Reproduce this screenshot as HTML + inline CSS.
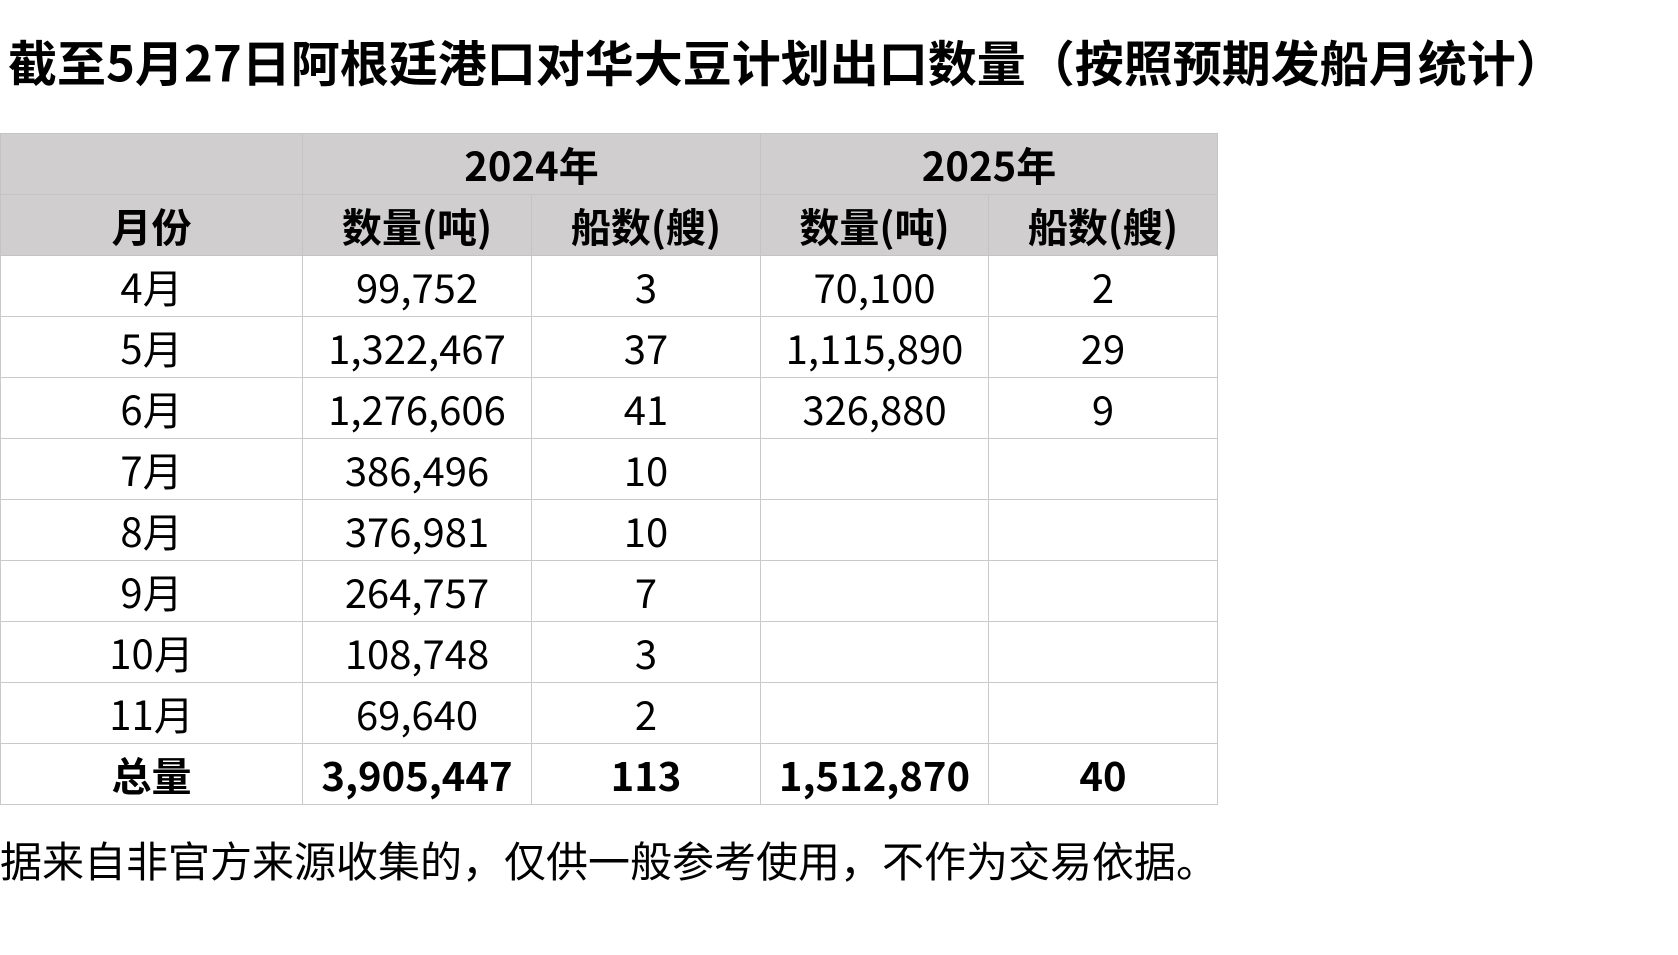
<!DOCTYPE html>
<html><head><meta charset="utf-8"><style>
body{margin:0;width:1678px;height:955px;background:#fff;overflow:hidden;font-family:"Noto Sans CJK SC","Liberation Sans",sans-serif;color:#000;position:relative}
.t{position:absolute;left:8px;top:61px;transform:translateY(-50%);font-size:49px;font-weight:bold;white-space:nowrap;line-height:1;letter-spacing:0}
table{position:absolute;left:0;top:133px;border-collapse:collapse;table-layout:fixed}
td{border:1px solid #c9c9c9;height:60px;padding:0;text-align:center;font-size:40px;line-height:1}
tr.h td{background:#d0cece;font-weight:bold;border-color:#c4c4c4}
tr.b td{font-weight:bold}
.f{position:absolute;left:0;top:860px;transform:translateY(-50%);font-size:42px;white-space:nowrap;line-height:1}
</style></head><body>
<div class="t">截至5月27日阿根廷港口对华大豆计划出口数量（按照预期发船月统计）</div>
<table>
<colgroup><col style="width:302px"><col style="width:229px"><col style="width:229px"><col style="width:228px"><col style="width:229px"></colgroup>
<tr class="h"><td></td><td colspan="2">2024年</td><td colspan="2">2025年</td></tr>
<tr class="h"><td>月份</td><td>数量(吨)</td><td>船数(艘)</td><td>数量(吨)</td><td>船数(艘)</td></tr>
<tr><td>4月</td><td>99,752</td><td>3</td><td>70,100</td><td>2</td></tr>
<tr><td>5月</td><td>1,322,467</td><td>37</td><td>1,115,890</td><td>29</td></tr>
<tr><td>6月</td><td>1,276,606</td><td>41</td><td>326,880</td><td>9</td></tr>
<tr><td>7月</td><td>386,496</td><td>10</td><td></td><td></td></tr>
<tr><td>8月</td><td>376,981</td><td>10</td><td></td><td></td></tr>
<tr><td>9月</td><td>264,757</td><td>7</td><td></td><td></td></tr>
<tr><td>10月</td><td>108,748</td><td>3</td><td></td><td></td></tr>
<tr><td>11月</td><td>69,640</td><td>2</td><td></td><td></td></tr>
<tr class="b"><td>总量</td><td>3,905,447</td><td>113</td><td>1,512,870</td><td>40</td></tr>
</table>
<div class="f">据来自非官方来源收集的，仅供一般参考使用，不作为交易依据。</div>
</body></html>
